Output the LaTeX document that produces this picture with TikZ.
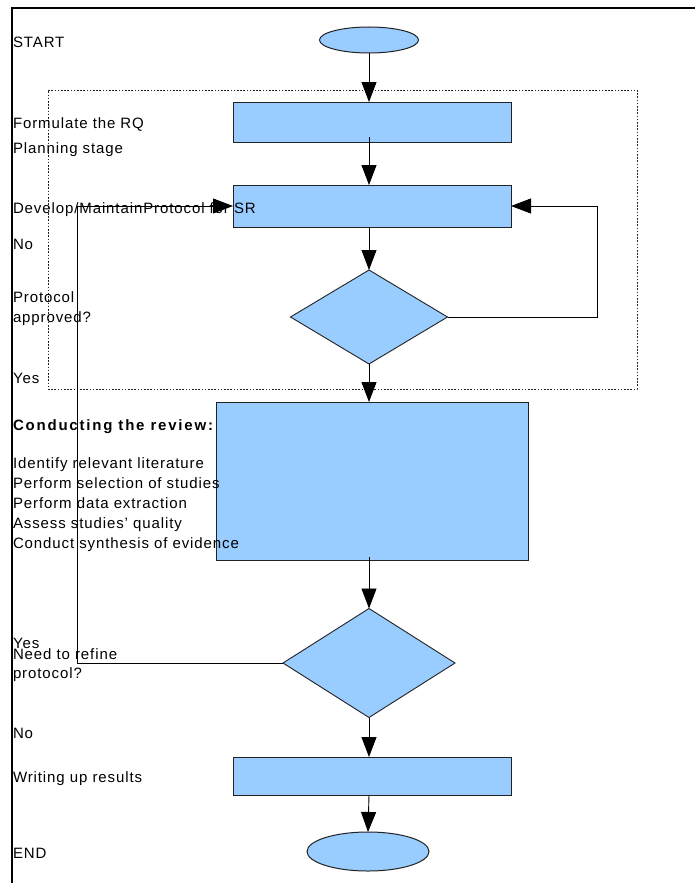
\documentclass[tikz,border=0pt]{standalone}
\usepackage{fontspec}
\setmainfont{Liberation Sans}[LetterSpace=6]
\newfontfamily\boldlbl{Liberation Sans}[LetterSpace=12]
\usetikzlibrary{shapes.geometric,arrows.meta}
\definecolor{boxblue}{HTML}{99CCFF}
\definecolor{edge}{HTML}{222222}
\begin{document}
\begin{tikzpicture}[x=1pt,y=-1pt,
  every node/.style={inner sep=0pt,outer sep=0pt},
  procbox/.style={rectangle,draw=edge,line width=1pt,fill=boxblue},
  decbox/.style={diamond,draw=edge,line width=0.9pt,fill=boxblue},
  termbox/.style={ellipse,draw=edge,line width=1pt,fill=boxblue},
  lbl/.style={anchor=base west,font=\fontsize{15}{17}\selectfont},
  arr/.style={line width=0.9pt,-{Triangle[length=20pt,width=15pt]}},
  conn/.style={line width=0.9pt}]
\useasboundingbox (0,0) rectangle (695,883);
% frame
\draw[line width=1.3pt] (695,8) -- (12,8) -- (12,883);
% dotted planning region
\node (plan) [draw=edge,line width=1pt,dash pattern=on 1.6pt off 1.6pt,minimum width=589pt,minimum height=299pt] at (342.5,239.5) {};
% shapes
\node (start) [termbox,minimum width=99pt,minimum height=26pt] at (369,40) {};
\node (rq) [procbox,minimum width=278pt,minimum height=40pt] at (372,122) {};
\node (prot) [procbox,minimum width=278pt,minimum height=42pt] at (372,206) {};
\node (appr) [decbox,minimum width=157pt,minimum height=94pt] at (369,317) {};
\node (cond) [procbox,minimum width=312pt,minimum height=158pt] at (372,481) {};
\node (refine) [decbox,minimum width=172pt,minimum height=109pt] at (369,663) {};
\node (write) [procbox,minimum width=278pt,minimum height=38pt] at (372,776) {};
\node (end) [termbox,minimum width=122pt,minimum height=39pt] at (368,851.5) {};
% labels
\node[lbl] (tstart) at (13,48) {START};
\node[lbl] (trq) at (13,128) {Formulate the RQ};
\node[lbl] (tplan) at (13,153) {Planning stage};
\node[lbl] (tprot) at (13,213) {Develop/MaintainProtocol for SR};
\node[lbl] (tno1) at (13,249) {No};
\node[lbl] (tap1) at (13,302) {Protocol};
\node[lbl] (tap2) at (13,322) {approved?};
\node[lbl] (tyes1) at (13,383) {Yes};
\node[lbl,font=\fontsize{15}{17}\boldlbl\bfseries] (tcond) at (13,430) {Conducting the review:};
\node[lbl] (tc1) at (13,468) {Identify relevant literature};
\node[lbl] (tc2) at (13,488) {Perform selection of studies};
\node[lbl] (tc3) at (13,508) {Perform data extraction};
\node[lbl] (tc4) at (13,528) {Assess studies’ quality};
\node[lbl] (tc5) at (13,548) {Conduct synthesis of evidence};
\node[lbl] (tyes2) at (13,648) {Yes};
\node[lbl] (tref1) at (13,659) {Need to refine};
\node[lbl] (tref2) at (13,678) {protocol?};
\node[lbl] (tno2) at (13,738) {No};
\node[lbl] (twrite) at (13,782) {Writing up results};
\node[lbl] (tend) at (13,858) {END};
% connectors
\draw[arr] (start.south -| 369,0) -- (369,102);
\draw[arr] ([yshift=5pt]rq.south -| 369,0) -- (prot.north -| 369,0);
\draw[arr] (prot.south -| 369,0) -- (appr.north);
\draw[arr] (appr.south) -- (cond.north -| 369,0);
\draw[arr] ([yshift=3pt]cond.south -| 369,0) -- (refine.north);
\draw[arr] (refine.south) -- (write.north -| 369,0);
\draw[arr] (write.south -| 369,0) -- (end.north);
\coordinate (rloop) at (597,206);
\coordinate (lloop) at (77,206);
\draw[conn] (appr.east) -| (rloop);
\draw[arr] (rloop) -- (prot.east);
\draw[conn] (refine.west) -| (lloop);
\draw[arr] (lloop) -- (prot.west);
\end{tikzpicture}
\end{document}
